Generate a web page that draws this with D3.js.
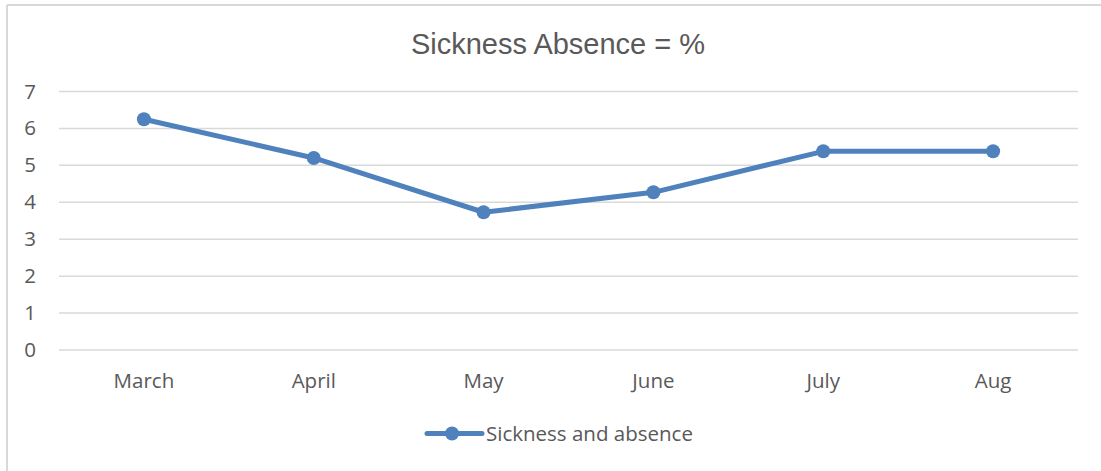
<!DOCTYPE html>
<html>
<head>
<meta charset="utf-8">
<script src="https://cdn.jsdelivr.net/npm/d3@7"></script>
<style>
  body { margin: 0; background: #fff; }
  text { font-family: "Open Sans", sans-serif; fill: #595959; }
</style>
</head>
<body>
<svg id="chart" width="1101" height="471"></svg>
<script>
// values
var months = ["March", "April", "May", "June", "July", "Aug"];
var absence = [6.25, 5.2, 3.73, 4.27, 5.38, 5.38];
var yTicks = [0, 1, 2, 3, 4, 5, 6, 7];
var seriesName = "Sickness and absence";
var chartTitle = "Sickness Absence = %";

var COLOR = "#4f81bd";
var GRID = "#d9d9d9";

var svg = d3.select("#chart");
var margin = {top: 91.5, left: 59, right: 23, bottom: 121};
var width = 1101 - margin.left - margin.right,
    height = 471 - margin.top - margin.bottom;

// chart frame (only left and top edges show in the crop)
svg.append("line").attr("x1", 7).attr("x2", 7).attr("y1", 5).attr("y2", 471)
  .attr("stroke", GRID).attr("stroke-width", 2);
svg.append("line").attr("x1", 7).attr("x2", 1101).attr("y1", 5).attr("y2", 5)
  .attr("stroke", GRID).attr("stroke-width", 2);

var g = svg.append("g").attr("transform", "translate(" + margin.left + "," + margin.top + ")");

var x = d3.scaleBand().domain(months).range([0, width]);
var y = d3.scaleLinear().domain([0, 7]).range([height, 0]);

// gridlines
g.selectAll(".grid").data(yTicks).enter().append("line")
  .attr("class", "grid")
  .attr("x1", 0).attr("x2", width)
  .attr("y1", function (d) { return y(d); })
  .attr("y2", function (d) { return y(d); })
  .attr("stroke", GRID).attr("stroke-width", 1.5);

// y axis labels
var yAxis = g.append("g").call(d3.axisLeft(y).tickValues(yTicks).tickFormat(d3.format("d"))
  .tickSize(0).tickPadding(23));
yAxis.select(".domain").remove();
yAxis.selectAll("text").style("font-size", "20.5px").attr("fill", "#595959")
  .style("font-family", "Open Sans, sans-serif");

// x axis labels
var xAxis = g.append("g").attr("transform", "translate(0," + height + ")")
  .call(d3.axisBottom(x).tickSize(0).tickPadding(23));
xAxis.select(".domain").remove();
xAxis.selectAll("text").style("font-size", "20.5px").attr("fill", "#595959")
  .style("font-family", "Open Sans, sans-serif");

var cx = function (d, i) { return x(months[i]) + x.bandwidth() / 2; };

var line = d3.line()
  .x(function (d, i) { return cx(d, i); })
  .y(function (d) { return y(d); });

g.append("path").datum(absence)
  .attr("d", line)
  .attr("fill", "none")
  .attr("stroke", COLOR)
  .attr("stroke-width", 5)
  .attr("stroke-linejoin", "round");

g.selectAll(".dot").data(absence).enter().append("circle")
  .attr("class", "dot")
  .attr("cx", cx)
  .attr("cy", function (d) { return y(d); })
  .attr("r", 7)
  .attr("fill", COLOR);

// title
svg.append("text")
  .attr("x", 558).attr("y", 54)
  .attr("text-anchor", "middle")
  .style("font-family", "Liberation Sans, Arial, sans-serif")
  .style("font-size", "29px")
  .text(chartTitle);

// legend
var lg = svg.append("g").attr("transform", "translate(427,433.5)");
lg.append("line").attr("x1", 0).attr("x2", 55).attr("y1", 0).attr("y2", 0)
  .attr("stroke", COLOR).attr("stroke-width", 5).attr("stroke-linecap", "round");
lg.append("circle").attr("cx", 25).attr("cy", 0).attr("r", 7).attr("fill", COLOR);
lg.append("text").attr("x", 59).attr("y", 0).attr("dy", "0.35em")
  .style("font-size", "20.5px")
  .text(seriesName);
</script>
</body>
</html>
